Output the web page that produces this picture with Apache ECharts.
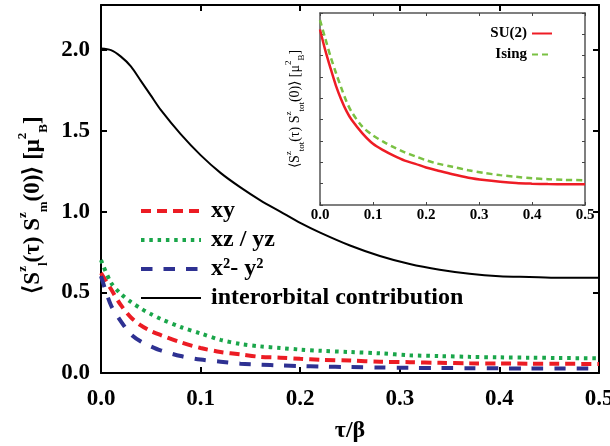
<!DOCTYPE html>
<html>
<head>
<meta charset="utf-8">
<script src="https://cdn.jsdelivr.net/npm/echarts@6/dist/echarts.min.js"></script>
<style>
html,body{margin:0;padding:0;background:#fff}
#main{width:610px;height:446px}
</style>
</head>
<body>
<div id="main"></div>
<script>
// tau/beta sampling
var tau = [0, 0.01, 0.02, 0.03, 0.04, 0.05, 0.06, 0.08, 0.10, 0.12, 0.14, 0.16, 0.18, 0.20, 0.22, 0.25, 0.28, 0.31, 0.34, 0.37, 0.40, 0.43, 0.46, 0.50]

// main panel
var xy = [0.62, 0.52, 0.42, 0.345, 0.295, 0.26, 0.235, 0.19, 0.155, 0.13, 0.115, 0.10, 0.095, 0.088, 0.082, 0.077, 0.07, 0.067, 0.063, 0.06, 0.059, 0.058, 0.057, 0.056]
var xzyz = [0.70, 0.56, 0.49, 0.44, 0.40, 0.365, 0.335, 0.285, 0.245, 0.205, 0.18, 0.165, 0.155, 0.145, 0.138, 0.13, 0.122, 0.11, 0.105, 0.10, 0.097, 0.095, 0.093, 0.091]
var x2y2 = [0.60, 0.42, 0.32, 0.24, 0.195, 0.165, 0.14, 0.105, 0.083, 0.07, 0.058, 0.052, 0.047, 0.043, 0.04, 0.037, 0.034, 0.032, 0.031, 0.03, 0.029, 0.028, 0.028, 0.027]
var inter = [2.01, 2.00, 1.96, 1.90, 1.81, 1.72, 1.63, 1.48, 1.35, 1.24, 1.15, 1.07, 1.00, 0.93, 0.87, 0.79, 0.725, 0.675, 0.64, 0.615, 0.60, 0.595, 0.59, 0.59]

// inset (arb. units)
var su2 = [8.23, 7.25, 6.4, 5.6, 4.95, 4.4, 3.98, 3.36, 2.87, 2.56, 2.3, 2.08, 1.93, 1.76, 1.63, 1.44, 1.28, 1.17, 1.09, 1.03, 1.0, 0.98, 0.97, 0.97]
var ising = [8.67, 7.8, 6.95, 6.2, 5.5, 4.85, 4.35, 3.67, 3.26, 2.96, 2.7, 2.47, 2.28, 2.1, 1.95, 1.79, 1.63, 1.5, 1.4, 1.32, 1.25, 1.21, 1.18, 1.16]

function pts(arr){
	var out=[]
	for(var i=0;i<tau.length;i++){
		out.push([tau[i],arr[i]])
	}
	return out
}

var serif = 'Liberation Serif'

function ax(extra){
	var o = {
		type:'value',
		axisLine:{show:true,onZero:false,lineStyle:{color:'#000',width:2}},
		axisTick:{show:true,inside:true,length:6,lineStyle:{color:'#000',width:2}},
		splitLine:{show:false},
		axisLabel:{show:false}
	}
	for(var k in extra) o[k]=extra[k]
	return o
}

function insetAx(extra){
	var o = {
		type:'value',
		axisLine:{show:true,onZero:false,lineStyle:{color:'#555',width:1.5}},
		axisTick:{show:true,inside:true,length:3,lineStyle:{color:'#444',width:1}},
		splitLine:{show:false},
		axisLabel:{show:false}
	}
	for(var k in extra) o[k]=extra[k]
	return o
}

var lbl = function(v){ return v.toFixed(1) }

var myChart = echarts.init(document.getElementById('main'))

var option = {
	animation:false,
	backgroundColor:'#fff',
	grid:[
		{left:101,right:11,top:5,bottom:73,containLabel:false,outerBoundsMode:'none'},
		{left:320,right:25,top:13,bottom:241,containLabel:false,outerBoundsMode:'none',show:true,backgroundColor:'#fff',borderWidth:0}
	],
	legend:[
		{
			orient:'vertical',left:139,top:199,padding:0,itemWidth:60,itemHeight:14,itemGap:5,
			itemStyle:{opacity:0},
			data:[
				{name:'xy',lineStyle:{width:4}},
				{name:'xz / yz',lineStyle:{width:4}},
				{name:'x²- y²',lineStyle:{width:4}},
				{name:'interorbital contribution',lineStyle:{width:2}}
			],
			textStyle:{fontFamily:serif,fontWeight:'bold',fontSize:24,color:'#000',lineHeight:24,padding:[0,0,0,5]}
		},
		{
			orient:'vertical',right:57,top:26,padding:0,itemWidth:20,itemHeight:14,itemGap:6,align:'right',
			itemStyle:{opacity:0},
			data:['SU(2)','Ising'],
			textStyle:{fontFamily:serif,fontWeight:'bold',fontSize:15,color:'#000'}
		}
	],
	xAxis:[
		ax({gridIndex:0,min:0,max:0.5,interval:0.1,position:'bottom',
			name:'τ/β',nameLocation:'middle',nameGap:46,
			nameTextStyle:{fontFamily:serif,fontWeight:'bold',fontSize:24,color:'#000'},
			axisLabel:{show:true,margin:15,formatter:lbl,fontFamily:serif,fontWeight:'bold',fontSize:23,color:'#000'}}),
		ax({gridIndex:0,min:0,max:0.5,interval:0.1,position:'top'}),
		insetAx({gridIndex:1,min:0,max:0.5,interval:0.1,position:'bottom',
			axisLabel:{show:true,margin:3,formatter:lbl,fontFamily:serif,fontWeight:'bold',fontSize:15,color:'#000'}}),
		insetAx({gridIndex:1,min:0,max:0.5,interval:0.1,position:'top'})
	],
	yAxis:[
		ax({gridIndex:0,min:0,max:2.28,interval:0.5,position:'left',
			name:'⟨S{sup|z}{sub|l}(τ) S{sup|z}{sub|m}(0)⟩ [μ{sup|2}{sub|B}]',
			nameLocation:'middle',nameGap:40,nameRotate:90,
			nameTextStyle:{fontFamily:serif,fontWeight:'bold',fontSize:23,color:'#000',lineHeight:34,padding:[0,32,0,0],
				rich:{
					sup:{fontFamily:serif,fontWeight:'bold',fontSize:13,color:'#000',verticalAlign:'top',lineHeight:14},
					sub:{fontFamily:serif,fontWeight:'bold',fontSize:13,color:'#000',verticalAlign:'bottom',lineHeight:14}
				}},
			axisLabel:{show:true,margin:11,showMaxLabel:false,formatter:function(v){return Math.abs(v*2-Math.round(v*2))<1e-6?v.toFixed(1):''},
				fontFamily:serif,fontWeight:'bold',fontSize:23,color:'#000'}}),
		ax({gridIndex:0,min:0,max:2.28,interval:0.5,position:'right'}),
		insetAx({gridIndex:1,min:0,max:9,interval:1,position:'left',
			name:'⟨S{sup|z}{sub|tot}(τ) S{sup|z}{sub|tot}(0)⟩ [μ{sup|2}{sub|B}]',
			nameLocation:'middle',nameGap:14,nameRotate:90,
			nameTextStyle:{fontFamily:serif,fontSize:14,color:'#000',lineHeight:22,
				rich:{
					sup:{fontFamily:serif,fontSize:9,color:'#000',verticalAlign:'top',lineHeight:9},
					sub:{fontFamily:serif,fontSize:9,color:'#000',verticalAlign:'bottom',lineHeight:9}
				}}}),
		insetAx({gridIndex:1,min:0,max:9,interval:1,position:'right'})
	],
	series:[
		{name:'xy',type:'line',xAxisIndex:0,yAxisIndex:0,symbol:'none',smooth:0.3,data:pts(xy),
			lineStyle:{color:'#ec1c24',width:4,type:[10,6]},itemStyle:{color:'#ec1c24'}},
		{name:'xz / yz',type:'line',xAxisIndex:0,yAxisIndex:0,symbol:'none',smooth:0.3,data:pts(xzyz),
			lineStyle:{color:'#1aa64a',width:4,type:[3.5,4.8]},itemStyle:{color:'#1aa64a'}},
		{name:'x²- y²',type:'line',xAxisIndex:0,yAxisIndex:0,symbol:'none',smooth:0.3,data:pts(x2y2),
			lineStyle:{color:'#2e3192',width:4,type:[11.5,11]},itemStyle:{color:'#2e3192'}},
		{name:'interorbital contribution',type:'line',xAxisIndex:0,yAxisIndex:0,symbol:'none',smooth:0.3,data:pts(inter),
			lineStyle:{color:'#000',width:2},itemStyle:{color:'#000'}},
		{name:'SU(2)',type:'line',xAxisIndex:2,yAxisIndex:2,symbol:'none',smooth:0.3,data:pts(su2),
			lineStyle:{color:'#ee1c25',width:2.5},itemStyle:{color:'#ee1c25'}},
		{name:'Ising',type:'line',xAxisIndex:2,yAxisIndex:2,symbol:'none',smooth:0.3,data:pts(ising),
			lineStyle:{color:'#7ac143',width:2.5,type:[6,4]},itemStyle:{color:'#7ac143'}}
	]
}

myChart.setOption(option)
</script>
</body>
</html>
